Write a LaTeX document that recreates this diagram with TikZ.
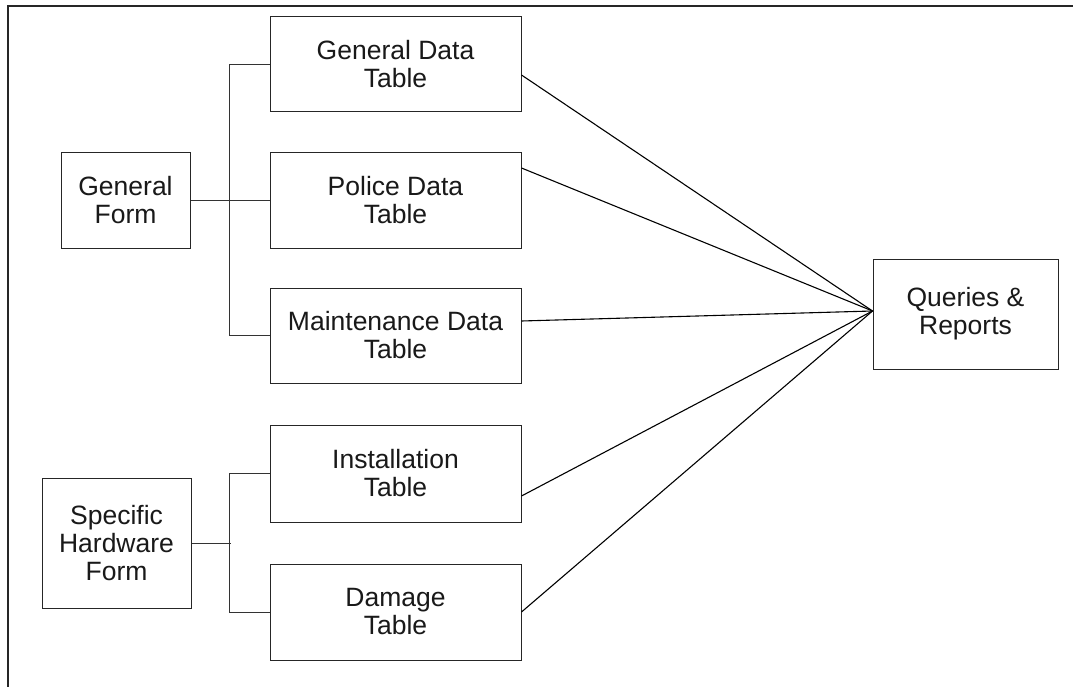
\documentclass[tikz,border=0pt]{standalone}
\usepackage{fontspec}
\setmainfont{Liberation Sans}
\begin{document}
\begin{tikzpicture}[x=1pt,y=-1pt,
  box/.style={draw=black!85,line width=1pt,fill=white,inner sep=0pt,align=center,
    font=\fontsize{26.5}{28}\selectfont,text=black!90},
  link/.style={draw=black!80,line width=1pt},
  ray/.style={draw=black,line width=1.1pt}]
\useasboundingbox (0,0) rectangle (1073,687);
% outer frame (top and left edges)
\draw[line width=2.2pt,black!85] (8,687) -- (8,6) -- (1073,6);

% forms
\node[box,minimum width=129pt,minimum height=95pt] (gf) at (125.5,200.5) {General\\Form};
\node[box,minimum width=149pt,minimum height=130pt] (shf) at (116.5,543) {Specific\\Hardware\\Form};

% tables
\node[box,minimum width=251pt,minimum height=95pt] (gdt) at (395.5,64.5) {General Data\\Table};
\node[box,minimum width=251pt,minimum height=95pt] (pdt) at (395.5,200.5) {Police Data\\Table};
\node[box,minimum width=251pt,minimum height=95pt] (mdt) at (395.5,335.5) {Maintenance Data\\Table};
\node[box,minimum width=251pt,minimum height=97pt] (inst) at (395.5,473.5) {Installation\\Table};
\node[box,minimum width=251pt,minimum height=96pt] (dmg) at (395.5,612) {Damage\\Table};

% output
\node[box,minimum width=185pt,minimum height=110pt] (qr) at (965.5,314) {Queries \&\\Reports};
\coordinate (hub) at ([yshift=3pt]qr.west);

% form-to-table brackets
\draw[link] (gdt.west) -- ++(-40,0) |- (mdt.west);
\draw[link] (gf.east) -- (pdt.west);
\draw[link] (inst.west) -- ++(-40,0) |- (dmg.west);
\draw[link] (shf.east) -- ++(39.5,0);

% tables feeding queries and reports
\draw[ray] ([yshift=-10.5pt]gdt.east) -- (hub);
\draw[ray] ([yshift=32.5pt]pdt.east) -- (hub);
\draw[ray] ([yshift=14.5pt]mdt.east) -- (hub);
\draw[ray] ([yshift=-22.5pt]inst.east) -- (hub);
\draw[ray] (dmg.east) -- (hub);
\end{tikzpicture}
\end{document}
